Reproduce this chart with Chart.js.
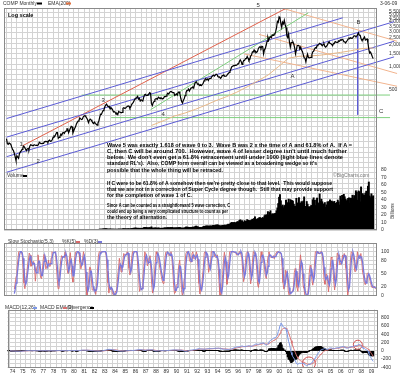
<!DOCTYPE html>
<html>
<head>
<meta charset="utf-8">
<script src="https://cdn.jsdelivr.net/npm/chart.js@4/dist/chart.umd.min.js"></script>
<style>
  html, body { margin: 0; padding: 0; background: #fff; }
  #wrap { position: relative; width: 400px; height: 375px; overflow: hidden; }
  #wrap canvas { position: absolute; left: 0; }
</style>
</head>
<body>
<div id="wrap">
  <canvas id="priceChart" width="400" height="237" style="top:0"></canvas>
  <canvas id="stochChart" width="400" height="67" style="top:236px"></canvas>
  <canvas id="macdChart" width="400" height="73" style="top:302px"></canvas>
</div>
<script>
// ---- data: COMP monthly, Jun 1973 .. Mar 2009 ----
const START_YEAR = 1973, START_MONTH = 5;
// the stochastic only starts once its look-back is filled (Oct 1974)
const STOCH_YEAR = 1974, STOCH_MONTH = 9;

const closes = [
  100,108,105,110,110,94,92,
  96,94,92,85,79,76,70,63,56,65,62,60,
  69,73,75,79,83,87,84,80,76,80,81,78,
  87,91,90,89,88,91,91,89,90,89,91,98,
  96,94,94,95,95,100,101,100,101,98,103,105,
  101,102,106,114,119,118,125,132,132,111,114,118,
  126,122,131,133,129,136,139,149,149,132,141,151,
  161,159,131,140,150,158,172,181,188,192,208,202,
  198,201,215,220,224,215,207,196,180,194,201,196,
  188,179,175,183,176,171,167,178,187,212,233,232,
  248,261,270,293,309,318,303,292,297,275,286,279,
  268,250,252,247,233,239,230,254,250,247,243,247,
  279,285,280,281,290,296,301,298,281,292,313,325,
  336,356,375,383,391,405,371,381,350,361,359,349,
  392,424,430,417,416,424,434,454,444,323,305,331,
  345,367,374,377,371,394,387,377,388,382,372,381,
  401,400,406,428,446,435,453,469,472,456,456,454,
  416,425,435,420,459,462,438,381,345,329,359,374,
  414,453,482,484,506,476,502,525,527,542,523,586,
  620,633,603,579,585,563,581,563,583,605,652,677,
  696,671,690,661,700,704,705,743,763,779,754,777,
  800,793,743,733,736,706,722,765,764,777,750,752,
  755,793,817,843,865,933,1001,1020,1044,1036,1059,1052,
  1060,1100,1101,1191,1243,1185,1081,1142,1227,1222,1293,1291,
  1380,1309,1222,1261,1400,1442,1594,1587,1686,1594,1601,1570,
  1619,1771,1835,1869,1779,1895,1872,1499,1694,1771,1950,2193,
  2506,2288,2461,2543,2471,2686,2638,2739,2746,2966,3336,4069,
  3940,4697,4573,3861,3401,3966,3767,4206,3673,3370,2598,2471,
  2773,2152,1840,2116,2110,2161,2027,1805,1499,1690,1931,1950,
  1934,1731,1845,1688,1616,1463,1328,1315,1172,1330,1479,1336,
  1321,1337,1341,1464,1596,1623,1735,1810,1787,1932,1960,2003,
  2066,2030,1994,1920,1987,2048,1887,1838,1897,1975,2097,2175,
  2062,2052,1999,1922,2068,2057,2185,2152,2152,2120,2233,2205,
  2306,2281,2340,2323,2179,2172,2091,2184,2258,2367,2432,2415,
  2464,2416,2422,2525,2605,2603,2546,2596,2701,2859,2661,2652,
  2390,2271,2279,2413,2523,2293,2326,2368,2092,1721,1536,1577,
  1476,1378,1293
];

// billions of shares per month
const volume = [
  0.1,0.1,0.1,0.1,0.1,0.1,0.1,
  0.1,0.1,0.1,0.1,0.1,0.1,0.1,0.1,0.1,0.1,0.1,0.1,
  0.1,0.1,0.2,0.1,0.2,0.2,0.1,0.1,0.1,0.1,0.1,0.1,
  0.2,0.2,0.2,0.2,0.1,0.1,0.1,0.1,0.1,0.2,0.1,0.2,
  0.2,0.2,0.2,0.2,0.2,0.2,0.2,0.2,0.2,0.2,0.2,0.2,
  0.2,0.2,0.3,0.4,0.4,0.3,0.4,0.5,0.4,0.4,0.3,0.3,
  0.4,0.3,0.4,0.4,0.4,0.4,0.4,0.5,0.5,0.5,0.4,0.4,
  0.6,0.6,0.5,0.5,0.5,0.5,0.7,0.7,0.7,0.8,0.7,0.7,
  0.7,0.6,0.7,0.8,0.7,0.7,0.6,0.6,0.6,0.6,0.6,0.6,
  0.6,0.6,0.6,0.7,0.6,0.5,0.6,0.8,0.9,1.2,1.3,1.1,
  1.4,1.5,1.5,1.6,1.9,1.7,1.4,1.3,1.3,1.4,1.3,1.2,
  1.3,1.2,1.2,1.1,1.2,1.1,1.1,1.5,1.2,1.3,1.3,1.3,
  1.7,1.8,1.6,1.6,1.6,1.5,1.8,1.6,1.5,1.7,2.0,2.1,
  2.4,2.5,2.6,2.7,2.4,2.4,2.4,2.3,2.3,2.4,2.2,2.3,
  3.2,3.5,3.4,3.3,3.0,2.8,3.0,3.3,2.9,4.2,2.6,2.6,
  2.6,2.8,2.9,2.5,2.5,2.9,2.5,2.4,2.2,2.5,2.4,2.4,
  3.0,2.8,2.9,2.8,3.3,3.1,3.0,3.4,3.1,3.4,3.0,2.7,
  3.0,2.8,3.1,2.8,3.2,3.2,3.3,3.0,2.4,2.6,2.7,2.6,
  3.2,4.0,3.9,3.8,3.6,3.5,3.6,3.5,3.6,4.0,3.6,4.1,
  5.0,5.3,4.3,4.2,3.6,3.5,3.6,3.3,3.7,4.4,4.8,5.0,
  5.4,5.4,5.5,5.2,5.1,5.6,5.2,5.3,6.0,6.3,5.8,6.3,
  6.7,6.4,6.9,6.1,5.7,5.6,5.3,6.1,6.1,6.4,6.5,6.0,
  6.6,6.9,7.8,7.0,8.0,9.2,10.1,9.8,9.7,10.1,9.5,9.5,
  10.6,11.2,10.8,12.9,13.6,11.1,12.5,9.6,10.7,12.5,11.4,11.5,
  13.8,12.9,12.3,12.5,12.5,13.2,14.4,13.4,15.4,17.6,13.9,14.0,
  15.0,15.1,16.5,16.5,13.8,15.5,16.7,15.6,18.9,20.2,18.9,20.4,
  24.5,19.7,23.4,25.6,20.2,21.6,21.2,21.4,21.9,22.3,25.6,29.4,
  35.2,43.6,47.1,38.9,31.3,33.1,29.6,32.2,32.8,39.9,34.6,36.4,
  41.1,36.2,40.4,39.3,39.1,38.5,34.4,31.8,31.4,42.1,35.5,36.1,
  43.0,35.2,36.0,37.8,36.4,38.5,44.1,31.5,30.8,37.9,34.4,30.7,
  31.1,29.8,32.4,32.6,40.2,42.8,39.4,32.6,39.9,42.5,36.1,34.9,
  48.0,38.3,41.0,37.6,33.0,34.8,36.5,30.2,33.3,37.5,37.1,37.9,
  40.2,38.1,38.5,37.5,36.6,38.1,35.3,35.6,36.6,39.8,37.4,33.1,
  45.1,40.1,46.1,41.3,47.4,44.2,41.0,38.6,40.0,42.1,42.8,35.7,
  42.4,42.0,46.3,41.9,45.8,44.9,52.2,50.0,39.8,52.0,51.0,37.4,
  57.3,47.6,48.4,46.1,46.4,49.1,51.7,41.5,58.2,63.8,45.2,42.9,
  48.2,44.1,45.5
];

// slow stochastic, Oct 1974 .. Mar 2009
const stochK = [
  15,29,44,
  62,81,100,100,100,100,92,62,29,16,33,46,
  67,80,97,92,67,70,75,78,67,33,56,67,
  93,78,59,41,39,58,83,94,94,61,67,67,
  81,67,67,86,100,98,98,98,100,67,38,16,
  39,59,81,91,88,88,88,100,100,67,51,51,
  84,98,64,41,31,63,86,99,100,100,100,93,
  76,61,69,85,100,87,54,20,0,13,39,65,
  64,38,13,13,15,15,3,23,56,90,100,99,
  99,100,100,100,100,100,90,56,29,6,19,19,
  19,6,2,2,2,11,11,44,61,85,69,54,
  63,79,96,92,92,96,100,95,62,47,52,85,
  100,100,100,100,100,100,67,43,10,16,16,16,
  43,67,100,95,82,68,73,86,91,58,25,6,
  15,49,76,100,94,94,84,65,57,43,34,28,
  52,84,99,99,100,92,92,92,100,86,58,24,
  5,7,23,27,53,70,81,48,14,0,9,38,
  72,96,100,100,100,81,77,77,96,100,84,84,
  84,100,91,58,28,4,19,15,45,64,97,100,
  100,91,86,53,62,67,100,100,100,100,89,87,
  87,93,62,28,1,1,16,48,80,99,83,53,
  26,42,73,100,100,100,100,100,100,98,98,92,
  94,94,100,100,100,86,53,32,43,75,96,99,
  100,85,52,27,42,75,100,99,99,87,59,25,
  19,47,81,100,88,88,81,60,43,39,73,90,
  100,90,87,87,88,91,84,93,93,100,100,100,
  97,97,94,64,30,15,25,58,55,45,11,0,
  8,8,8,10,20,53,62,53,19,10,37,70,
  93,71,55,23,17,0,0,0,0,18,51,69,
  67,37,24,41,71,100,100,100,96,96,96,100,
  100,91,68,35,26,49,49,33,9,31,64,88,
  86,66,33,13,33,64,97,93,87,70,74,75,
  92,87,96,91,62,29,0,13,47,80,100,98,
  98,81,55,55,71,100,89,85,86,96,79,53,
  45,30,25,32,50,52,48,38,30,22,18,20,
  22,18,15
];

const stochD = [
  5,15,29,
  45,62,81,94,100,100,97,85,61,36,26,32,
  49,64,81,90,85,76,71,74,73,59,52,52,
  72,79,77,59,46,46,60,78,90,83,74,65,
  72,72,72,73,84,95,99,98,99,88,68,40,
  31,38,60,77,87,89,88,92,96,89,73,56,
  62,78,82,68,45,45,60,83,95,100,100,98,
  90,77,69,72,85,91,80,54,25,11,17,39,
  56,56,38,21,14,14,11,14,27,56,82,96,
  99,99,100,100,100,100,97,82,58,30,18,15,
  19,15,9,3,2,5,8,22,39,63,72,69,
  62,65,79,89,93,93,96,97,86,68,54,61,
  79,95,100,100,100,100,89,70,40,23,14,16,
  25,42,70,87,92,82,74,76,83,78,58,30,
  15,23,47,75,90,96,91,81,69,55,45,35,
  38,55,78,94,99,97,95,92,95,93,81,56,
  29,12,12,19,34,50,68,66,48,21,8,16,
  40,69,89,99,100,94,86,78,83,91,93,89,
  84,89,92,83,59,30,17,13,26,41,69,87,
  99,97,92,77,67,61,76,89,100,100,96,92,
  88,89,81,61,30,10,6,22,48,76,87,78,
  54,40,47,72,91,100,100,100,100,99,99,96,
  95,93,96,98,100,95,80,57,43,50,71,90,
  98,95,79,55,40,48,72,91,99,95,82,57,
  34,30,49,76,90,92,86,76,61,47,52,67,
  88,93,92,88,87,89,88,89,90,95,98,100,
  99,98,96,85,63,36,23,33,46,53,37,19,
  6,5,8,9,13,28,45,56,45,27,22,39,
  67,78,73,50,32,13,6,0,0,6,23,46,
  62,58,43,34,45,71,90,100,99,97,96,97,
  99,97,86,65,43,37,41,44,30,24,35,61,
  79,80,62,37,26,37,65,85,92,83,77,73,
  80,85,92,91,83,61,30,14,20,47,76,93,
  99,92,78,64,60,75,87,91,87,89,87,76,
  59,43,33,29,36,45,50,46,39,30,23,20,
  20,19,18
];

const macdLine = [
  -3,-2,-2,-1,0,-2,-4,
  -5,-5,-6,-7,-8,-9,-10,-11,-12,-11,-10,-9,
  -7,-5,-3,-1,1,3,4,4,3,3,3,2,
  3,4,4,5,4,4,4,3,3,2,2,3,
  3,2,2,2,1,2,2,2,2,1,2,2,
  2,2,2,3,4,5,6,7,8,5,4,3,
  4,4,5,5,5,6,6,7,8,6,5,6,
  8,9,6,5,5,6,8,10,12,14,16,16,
  15,14,14,14,14,12,10,7,3,2,1,0,
  -2,-4,-6,-6,-7,-8,-9,-8,-6,-1,5,9,
  14,18,22,27,32,35,35,32,30,25,23,19,
  15,10,6,2,-2,-4,-7,-6,-6,-6,-6,-6,
  -3,0,2,4,6,8,10,10,8,8,10,13,
  15,18,22,25,27,30,27,26,21,18,15,11,
  14,18,21,22,22,22,22,24,23,12,2,-3,
  -5,-4,-2,0,1,3,4,4,5,5,4,4,
  6,7,8,10,13,14,16,19,21,21,21,20,
  21,18,16,14,15,16,14,8,1,-7,-10,-11,
  -9,-4,3,8,14,15,19,23,26,30,31,36,
  42,48,50,48,47,44,42,39,38,38,42,46,
  50,51,53,51,52,53,53,56,59,61,61,62,
  63,64,59,54,49,43,39,38,38,38,35,33,
  31,32,35,38,42,51,62,72,80,85,90,93,
  94,97,99,106,115,115,106,103,106,107,112,114,
  122,121,112,106,112,119,135,145,159,161,162,158,
  157,166,177,186,184,189,189,158,147,142,152,177,
  219,232,253,274,281,300,308,319,325,343,383,469,
  519,613,671,650,590,582,554,559,515,450,333,228,
  164,65,-39,-97,-143,-172,-204,-245,-298,-321,-317,-308,
  -299,-304,-296,-299,-303,-316,-332,-343,-358,-354,-335,-327,
  -318,-307,-294,-271,-239,-209,-175,-139,-112,-78,-48,-21,
  6,24,35,37,44,54,48,39,36,39,51,67,
  69,69,64,53,55,56,66,70,73,72,79,82,
  91,95,102,104,94,84,69,64,65,74,85,91,
  99,101,101,108,119,126,126,128,136,154,151,145,
  119,87,62,52,52,34,22,15,-12,-63,-117,-154,
  -190,-224,-254
];

const macdSignal = [
  -3,-3,-2,-2,-1,-1,-2,
  -3,-3,-4,-5,-6,-7,-7,-8,-9,-10,-10,-10,
  -9,-8,-7,-6,-4,-3,-1,0,1,2,2,2,
  2,3,3,3,4,4,4,4,4,3,3,3,
  3,3,3,2,2,2,2,2,2,2,2,2,
  2,2,2,2,3,3,4,4,5,5,5,4,
  4,4,4,4,5,5,5,5,6,6,6,6,
  6,7,7,6,6,6,6,7,8,9,11,12,
  13,13,13,14,14,13,13,12,10,9,7,6,
  4,2,0,-1,-2,-4,-5,-5,-6,-5,-3,-1,
  2,5,8,12,16,20,23,25,26,26,25,24,
  22,20,17,14,10,7,4,2,0,-1,-2,-3,
  -3,-2,-1,0,1,3,4,5,6,6,7,8,
  10,11,14,16,18,21,22,23,22,22,20,18,
  17,17,18,19,19,20,20,21,21,19,16,12,
  9,6,4,3,3,3,3,3,4,4,4,4,
  4,5,5,6,7,9,10,12,13,15,16,17,
  18,18,18,17,17,17,16,15,12,8,4,1,
  -1,-2,-1,1,4,6,9,12,15,18,21,24,
  28,32,36,38,40,41,41,41,40,40,40,41,
  43,45,46,47,48,49,50,51,53,54,56,57,
  58,60,60,58,57,54,51,48,46,45,43,41,
  39,37,37,37,38,41,45,50,56,62,68,73,
  77,81,85,89,94,98,100,101,102,103,105,107,
  110,112,112,111,111,113,117,123,130,136,141,145,
  147,151,156,162,166,171,175,171,166,161,160,163,
  174,186,199,214,227,242,255,268,279,292,310,342,
  377,424,473,508,524,536,540,544,538,520,483,432,
  378,316,245,177,113,56,4,-46,-96,-141,-176,-203,
  -222,-239,-250,-260,-269,-278,-289,-300,-311,-320,-323,-324,
  -323,-319,-314,-306,-292,-276,-256,-232,-208,-182,-155,-129,
  -102,-77,-54,-36,-20,-5,6,12,17,21,27,35,
  42,47,51,51,52,53,55,58,61,63,67,70,
  74,78,83,87,89,88,84,80,77,76,78,81,
  84,88,90,94,99,104,109,113,117,125,130,133,
  130,121,110,98,89,78,67,56,43,22,-6,-36,
  -67,-98,-129
];

const divergence = [
  0,1,0,1,1,-1,-2,
  -2,-2,-2,-2,-2,-2,-3,-3,-3,-1,0,1,
  2,3,4,5,5,6,5,4,2,1,1,0,
  1,1,1,2,0,0,0,-1,-1,-1,-1,0,
  0,-1,-1,0,-1,0,0,0,0,-1,0,0,
  0,0,0,1,1,2,2,3,3,0,-1,-1,
  0,0,1,1,0,1,1,2,2,0,-1,0,
  2,2,-1,-1,-1,0,2,3,4,5,5,4,
  2,1,1,0,0,-1,-3,-5,-7,-7,-6,-6,
  -6,-6,-6,-5,-5,-4,-4,-3,0,4,8,10,
  12,13,14,15,16,15,12,7,4,-1,-2,-5,
  -7,-10,-11,-12,-12,-11,-11,-8,-6,-5,-4,-3,
  0,2,3,4,5,5,6,5,2,2,3,5,
  5,7,8,9,9,9,5,3,-1,-4,-5,-7,
  -3,1,3,3,3,2,2,3,2,-7,-14,-15,
  -14,-10,-6,-3,-2,0,1,1,1,1,0,0,
  2,2,3,4,6,5,6,7,8,6,5,3,
  3,0,-2,-3,-2,-1,-2,-7,-11,-15,-14,-12,
  -8,-2,4,7,10,9,10,11,11,12,10,12,
  14,16,14,10,7,3,1,-2,-2,-2,2,5,
  7,6,7,4,4,4,3,5,6,7,5,5,
  5,4,-1,-4,-8,-11,-12,-10,-8,-7,-8,-8,
  -8,-5,-2,1,4,10,17,22,24,23,22,20,
  17,16,14,17,21,17,6,2,4,4,7,7,
  12,9,0,-5,1,6,18,22,29,25,21,13,
  10,15,21,24,18,18,14,-13,-19,-19,-8,14,
  45,46,54,60,54,58,53,51,46,51,73,127,
  142,189,198,142,66,46,14,15,-23,-70,-150,-204,
  -214,-251,-284,-274,-256,-228,-208,-199,-202,-180,-141,-105,
  -77,-65,-46,-39,-34,-38,-43,-43,-47,-34,-12,-3,
  5,12,20,35,53,67,81,93,96,104,107,108,
  108,101,89,73,64,59,42,27,19,18,24,32,
  27,22,13,2,3,3,11,12,12,9,12,12,
  17,17,19,17,5,-4,-15,-16,-12,-2,7,10,
  15,13,11,14,20,22,17,15,19,29,21,12,
  -11,-34,-48,-46,-37,-44,-45,-41,-55,-85,-111,-118,
  -123,-126,-125
];

// EMA(200): only drawn once 200 months of history exist
const emaYears = [1987.75,1988,1989,1990,1991,1992,1993,1994,1995,1996,1997,1998,1999,2000,
  2001,2002,2003,2004,2005,2006,2007,2008,2009,2009.17];
const ema200 = [165,170,193,221,242,271,309,355,400,460,542,649,776,1005,
  1311,1389,1404,1433,1495,1564,1646,1753,1798,1785];

// trend lines drawn on the chart: [year1, price1, year2, price2]
const blueLines = [
  [1973.76, 204, 2006.24, 4550],
  [1973.76, 115, 2011.19, 4036],
  [1973.76, 63, 2011.19, 2208],
  [1973.76, 39, 2011.19, 1364],
  [2007.67, 2900, 2007.67, 230]
];
const redLines = [[1975.29, 88, 2001.0, 6342]];
const greenLines = [
  [1987.67, 268, 2002.9, 5297],
  [1981.0, 421, 2010.8, 421],
  [1983.86, 210, 2010.8, 210]
];
const salmonLines = [
  [2000.33, 6150, 2011.48, 2208],
  [1998.14, 2729, 2011.48, 817],
  [1996.71, 1493, 2011.48, 552]
];
// hand-drawn circles on the MACD panel: [year, value, radius]
const macdCircles = [[2002.9, -305, 6.5], [2007.67, 146, 4.5]];

const yearLabels = ['74','75','76','77','78','79','80','81','82','83','84','85','86','87','88','89','90',
  '91','92','93','94','95','96','97','98','99','00','01','02','03','04','05','06','07','08','09'];
const priceTicks = [500,1000,1500,2000,2500,3000,3500,4000,4500,5000,5500];
const volumeTicks = [0,10,20,30,40,50,60,70,80];
const stochTicks = [0,20,50,80,100];
const macdTicks = [-400,-200,0,200,400,600,800];

const note1 = [
  "Wave 5 was exactly 1.618 of wave 0 to 3.  Wave B was 2 x the time of A and 61.8% of A.  If A =",
  "C, then C will be around 700.  However, wave 4 of lesser degree isn't until much further",
  "below.  We don't even get a 61.8% retracement until under 1000 (light blue lines denote",
  "standard RL's).  Also, COMP form overall can be viewed as a broadening wedge so it's",
  "possible that the whole thing will be retraced."
];
const note2 = [
  "If C were to be 61.8% of A somehow then we're pretty close to that level.  This would suppose",
  "that we are not in a correction of Super Cycle degree though.  Still that may provide support",
  "for the completion of wave 1 of C."
];
const note3 = [
  "Since A can be counted as a straightforward 5 wave correction, C",
  "could end up being a very complicated structure to count as per",
  "the theory of alternation."
];

// ---- helpers ----
const T_MIN = 1973.762, T_MAX = 2009.286;
const monthT = (y0, m0, i) => y0 + (m0 + i) / 12;
const series = arr => arr.map((v, i) => ({ x: monthT(START_YEAR, START_MONTH, i), y: v }));
const stochSeries = arr => arr.map((v, i) => ({ x: monthT(STOCH_YEAR, STOCH_MONTH, i), y: v }));
const GRID = '#d3d3d3';
const FONT = 'Arial';
const AXIS_W = 23;

const gridTicks = [];
for (let t = 1974; t <= 2009.01; t += 0.5) gridTicks.push(t);

function xAxis(showLabels) {
  return {
    type: 'linear', min: T_MIN, max: T_MAX,
    grid: { color: GRID, drawTicks: false, lineWidth: 1 },
    border: { display: false },
    afterBuildTicks: s => { s.ticks = gridTicks.map(v => ({ value: v })); },
    ticks: {
      display: showLabels, autoSkip: false, maxRotation: 0, padding: 1,
      font: { family: FONT, size: 5 }, color: '#333',
      callback: v => Number.isInteger(v) ? yearLabels[v - 1974] : ''
    },
    afterFit: s => { s.height = showLabels ? 7 : 0; }
  };
}

function lineSets(lines, color, width) {
  return lines.map(l => ({
    type: 'line', yAxisID: 'yP',
    data: [{ x: l[0], y: l[1] }, { x: l[2], y: l[3] }],
    borderColor: color, borderWidth: width || 1, pointRadius: 0,
    clip: { left: 0, top: 0, right: 25, bottom: 0 }
  }));
}

// draws the frame, legends, notes and the volume scale labels
const decor = {
  id: 'decor',
  afterDatasetsDraw(chart, args, opts) {
    const ctx = chart.ctx, a = chart.chartArea;
    ctx.save();
    ctx.strokeStyle = '#8a8a8a';
    ctx.lineWidth = 1;
    ctx.strokeRect(Math.round(a.left) + 0.5, Math.round(a.top) + 0.5,
      Math.round(a.right - a.left) - 1, Math.round(a.bottom - a.top) - 1);
    ctx.textBaseline = 'middle';
    const texts = (opts.texts || []).slice();
    if (opts.volumeAxis) {
      const sc = chart.scales[opts.volumeAxis];
      volumeTicks.forEach(v => texts.push({ text: String(v), x: a.right + 4, y: sc.getPixelForValue(v) }));
    }
    texts.forEach(it => {
      ctx.font = it.font || ('5px ' + FONT);
      ctx.fillStyle = it.color || '#333';
      ctx.textAlign = 'left';
      ctx.save();
      ctx.translate(it.x, it.y);
      if (it.rot) ctx.rotate(it.rot);
      if (it.w) {
        const w = ctx.measureText(it.text).width;
        ctx.scale(it.w / w, 1);
      }
      ctx.fillText(it.text, 0, 0);
      ctx.restore();
    });
    (opts.swatches || []).forEach(s => {
      ctx.fillStyle = s.color;
      ctx.fillRect(s.x, s.y, s.w, 2);
    });
    ctx.restore();
  }
};

// ---- price + volume panel ----
const noteTexts = [];
const noteFont = 'bold 5.5px ' + FONT;
const note1Y = [145, 151.3, 157.5, 163.7, 170], note1W = [245, 240, 236, 210, 116];
const note2Y = [183.3, 189.3, 195.3], note2W = [225, 226, 85];
const note3Y = [205.5, 211.5, 217.3], note3W = [123, 121, 60];
note1.forEach((t, i) => noteTexts.push({ text: t, x: 107, y: note1Y[i], w: note1W[i], font: noteFont, color: '#000' }));
note2.forEach((t, i) => noteTexts.push({ text: t, x: 107, y: note2Y[i], w: note2W[i], font: noteFont, color: '#000' }));
note3.forEach((t, i) => noteTexts.push({ text: t, x: 107, y: note3Y[i], w: note3W[i], font: noteFont, color: '#000' }));

const waveFont = '6px ' + FONT;
const priceTexts = noteTexts.concat([
  { text: 'COMP Monthly', x: 3, y: 3.5 },
  { text: 'EMA(200)', x: 48, y: 3.5 },
  { text: '3-06-09', x: 380, y: 3.5 },
  { text: 'Log scale', x: 8, y: 15, font: 'bold 5.5px ' + FONT, color: '#000' },
  { text: 'Volume', x: 7, y: 176 },
  { text: '\u00a9BigCharts.com', x: 333, y: 176, color: '#777' },
  { text: 'Billions', x: 393, y: 219, rot: -Math.PI / 2, font: '5px ' + FONT },
  { text: '5', x: 256.5, y: 5.5, font: waveFont },
  { text: 'B', x: 356.5, y: 22.7, font: waveFont },
  { text: 'A', x: 290.5, y: 76, font: waveFont },
  { text: 'C', x: 379, y: 111, font: waveFont },
  { text: '1', x: 19.5, y: 144, font: waveFont },
  { text: '2', x: 36.5, y: 161, font: waveFont },
  { text: '3', x: 101.5, y: 100, font: waveFont },
  { text: '4', x: 161.5, y: 114, font: waveFont }
]);

const tickFont = { family: FONT, size: 5 };

new Chart(document.getElementById('priceChart'), {
  type: 'line',
  data: {
    datasets: [
      { data: series(closes), yAxisID: 'yP', borderColor: '#000', borderWidth: 1.2, pointRadius: 0 },
      { data: emaYears.map((t, i) => ({ x: t, y: ema200[i] })), yAxisID: 'yP',
        borderColor: '#e8b888', borderWidth: 1, pointRadius: 0 },
      ...lineSets(blueLines, '#5c5cd6'),
      ...lineSets(redLines, '#e0604a'),
      ...lineSets(greenLines, '#7ed07e'),
      ...lineSets(salmonLines, '#f2b48e'),
      { type: 'bar', data: series(volume), yAxisID: 'yV', backgroundColor: '#000',
        barThickness: 1.3, grouped: false }
    ]
  },
  options: {
    responsive: false, animation: false,
    layout: { padding: { left: 4, right: 0, top: 8, bottom: 2 } },
    plugins: {
      legend: { display: false }, tooltip: { enabled: false },
      decor: {
        texts: priceTexts,
        volumeAxis: 'yV',
        swatches: [
          { x: 37, y: 2.5, w: 5, color: '#000' },
          { x: 66, y: 2.5, w: 5, color: '#e07040' },
          { x: 23, y: 175, w: 4, color: '#000' }
        ]
      }
    },
    scales: {
      x: xAxis(false),
      yG: {
        position: 'left', min: 0, max: 42.8,
        afterBuildTicks: s => { const t = []; for (let i = 0; i <= 42; i++) t.push({ value: i }); s.ticks = t; },
        grid: { color: GRID, drawTicks: false }, border: { display: false },
        ticks: { display: false }, afterFit: s => { s.width = 0; }
      },
      yP: {
        type: 'logarithmic', position: 'right', min: 6.58, max: 6150,
        grid: { display: false }, border: { display: false },
        afterBuildTicks: s => { s.ticks = priceTicks.map(v => ({ value: v })); },
        ticks: { font: tickFont, color: '#333', padding: 4, autoSkip: false,
          callback: v => v.toLocaleString('en-US') },
        afterFit: s => { s.width = AXIS_W; }
      },
      yV: { type: 'linear', display: false, min: 0, max: 295 }
    }
  },
  plugins: [decor]
});

// ---- slow stochastic panel ----
const stochGrid = [0,10,20,30,40,50,60,70,80,90,100,110];
new Chart(document.getElementById('stochChart'), {
  type: 'line',
  data: {
    datasets: [
      { data: stochSeries(stochD), borderColor: '#7878dc', borderWidth: 1.3, pointRadius: 0 },
      { data: stochSeries(stochK), borderColor: '#d86a6a', borderWidth: 0.9, pointRadius: 0 }
    ]
  },
  options: {
    responsive: false, animation: false,
    layout: { padding: { left: 4, right: 0, top: 1, bottom: 1 } },
    plugins: {
      legend: { display: false }, tooltip: { enabled: false },
      decor: {
        texts: [
          { text: 'Slow Stochastic(5,3)', x: 8, y: 6 },
          { text: '%K(5)', x: 62, y: 6 },
          { text: '%D(3)', x: 84, y: 6 }
        ],
        swatches: [
          { x: 76, y: 5, w: 4, color: '#d86a6a' },
          { x: 98, y: 5, w: 4, color: '#7878dc' }
        ]
      }
    },
    scales: {
      x: xAxis(false),
      y: {
        position: 'right', min: -0.56, max: 119.8,
        grid: { color: GRID, drawTicks: false }, border: { display: false },
        afterBuildTicks: s => { s.ticks = stochGrid.map(v => ({ value: v })); },
        ticks: { font: tickFont, color: '#333', padding: 4, autoSkip: false,
          callback: v => stochTicks.includes(v) ? String(v) : '' },
        afterFit: s => { s.width = AXIS_W; }
      }
    }
  },
  plugins: [decor]
});

// ---- MACD panel ----
const macdGrid = [-400,-300,-200,-100,0,100,200,300,400,500,600,700,800,900];
new Chart(document.getElementById('macdChart'), {
  type: 'line',
  data: {
    datasets: [
      { data: series(macdLine), borderColor: '#7c98e6', borderWidth: 1, pointRadius: 0 },
      { data: series(macdSignal), borderColor: '#d87070', borderWidth: 1, pointRadius: 0 },
      { type: 'scatter', data: macdCircles.map(c => ({ x: c[0], y: c[1] })),
        pointRadius: macdCircles.map(c => c[2]), pointBorderColor: '#d05050',
        pointBackgroundColor: 'rgba(0,0,0,0)', pointBorderWidth: 1, showLine: false },
      { type: 'bar', data: series(divergence), backgroundColor: '#000', barThickness: 1.3, grouped: false }
    ]
  },
  options: {
    responsive: false, animation: false,
    layout: { padding: { left: 4, right: 0, top: 1, bottom: 0 } },
    plugins: {
      legend: { display: false }, tooltip: { enabled: false },
      decor: {
        texts: [
          { text: 'MACD(12,26)', x: 5, y: 6 },
          { text: 'MACD EMA(9)', x: 40, y: 6 },
          { text: 'Divergence', x: 68, y: 6 }
        ],
        swatches: [
          { x: 33, y: 5, w: 4, color: '#7c98e6' },
          { x: 63, y: 5, w: 4, color: '#d87070' },
          { x: 90, y: 5, w: 4, color: '#000' }
        ]
      }
    },
    scales: {
      x: xAxis(true),
      y: {
        position: 'right', min: -402, max: 995,
        grid: { color: GRID, drawTicks: false }, border: { display: false },
        afterBuildTicks: s => { s.ticks = macdGrid.map(v => ({ value: v })); },
        ticks: { font: tickFont, color: '#333', padding: 4, autoSkip: false,
          callback: v => macdTicks.includes(v) ? String(v) : '' },
        afterFit: s => { s.width = AXIS_W; }
      }
    }
  },
  plugins: [decor]
});
</script>
</body>
</html>
